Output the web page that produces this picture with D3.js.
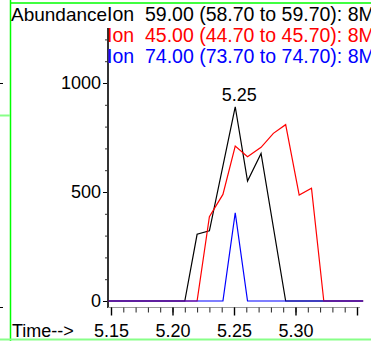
<!DOCTYPE html>
<html>
<head>
<meta charset="utf-8">
<script src="https://cdn.jsdelivr.net/npm/d3@7/dist/d3.min.js"></script>
<style>
  html, body { margin: 0; padding: 0; background: #fff; }
  svg { display: block; font-family: "Liberation Sans", Arial, sans-serif; }
</style>
</head>
<body>
<svg id="chart" width="371" height="341"></svg>
<script>
// Extracted ion chromatograms: retention time (min) vs abundance
const ion59Time  = [5.148, 5.210, 5.220, 5.230, 5.251, 5.261, 5.272, 5.292, 5.355];
const ion59Abund = [0,     0,     306,   322,   891,   550,   677,   0,     0];

const ion45Time  = [5.148, 5.220, 5.230, 5.241, 5.251, 5.261, 5.272, 5.282, 5.292, 5.303, 5.313, 5.323, 5.355];
const ion45Abund = [0,     0,     387,   489,   711,   662,   705,   769,   809,   486,   517,   0,     0];

const ion74Time  = [5.148, 5.241, 5.251, 5.261, 5.355];
const ion74Abund = [0,     0,     405,   0,     0];

const legendLines = [
  "Ion  59.00 (58.70 to 59.70): 8M",
  "Ion  45.00 (44.70 to 45.70): 8M",
  "Ion  74.00 (73.70 to 74.70): 8M"
];
const seriesColors = ["#000000", "#ff0000", "#0000ff"];

const yMajorTicks = [0, 500, 1000];
const yMinorTicks = d3.range(0, 1300, 100);
const xMajorTicks = [5.15, 5.20, 5.25, 5.30, 5.35];
const xLabelTicks = [5.15, 5.20, 5.25, 5.30];
const xMinorTicks = d3.range(5.15, 5.355, 0.01).map(v => +v.toFixed(2));

const peakLabelTime = 5.251, peakLabelAbund = 891, peakLabelText = "5.25";

const svg = d3.select("#chart");

const x = d3.scaleLinear().domain([5.15, 5.35]).range([111, 357]);
const y = d3.scaleLinear().domain([0, 1000]).range([301, 83]);

// panel frame lines
const frame = svg.append("g");
frame.append("line").attr("x1", 10.5).attr("x2", 10.5).attr("y1", 0).attr("y2", 341)
  .attr("stroke", "#00ff00").attr("stroke-width", 1.5);
frame.append("line").attr("x1", 10).attr("x2", 371).attr("y1", 3).attr("y2", 3)
  .attr("stroke", "#00ff00").attr("stroke-width", 1.5);
frame.append("line").attr("x1", 0).attr("x2", 10).attr("y1", 115.5).attr("y2", 115.5)
  .attr("stroke", "#88ff88").attr("stroke-width", 2);
frame.append("line").attr("x1", 0).attr("x2", 371).attr("y1", 339.5).attr("y2", 339.5)
  .attr("stroke", "#88ff88").attr("stroke-width", 2);
frame.selectAll(".stub").data([83, 307]).join("line")
  .attr("x1", 0).attr("x2", 3).attr("y1", d => d + 0.5).attr("y2", d => d + 0.5)
  .attr("stroke", "#000").attr("stroke-width", 1);

// y axis
const yMinor = svg.append("g").attr("transform", "translate(108,0)")
  .call(d3.axisLeft(y).tickValues(yMinorTicks).tickSize(3).tickFormat(""));
yMinor.select(".domain").remove();
yMinor.selectAll(".tick line").attr("stroke", "#333");

const yAxis = svg.append("g").attr("transform", "translate(108,0)")
  .call(d3.axisLeft(y).tickValues(yMajorTicks).tickSize(5).tickPadding(2).tickFormat(d3.format("d")));
yAxis.select(".domain").remove();
yAxis.selectAll(".tick line").attr("stroke", "#000");
yAxis.selectAll("text").attr("font-size", 18).attr("fill", "#000")
  .attr("font-family", "Liberation Sans, Arial, sans-serif");

svg.append("line").attr("x1", 108).attr("x2", 108).attr("y1", 28).attr("y2", 308)
  .attr("stroke", "#333").attr("stroke-width", 2);

// x axis
const xAxisY = 307.5;
const xMinor = svg.append("g").attr("transform", `translate(0,${xAxisY})`)
  .call(d3.axisBottom(x).tickValues(xMinorTicks).tickSize(5).tickSizeOuter(0).tickFormat(""));
xMinor.select(".domain").attr("stroke", "#999").attr("d", `M108,0H360`);
xMinor.selectAll(".tick line").attr("stroke", "#222");

const xAxis = svg.append("g").attr("transform", `translate(0,${xAxisY})`)
  .call(d3.axisBottom(x).tickValues(xMajorTicks).tickSize(8).tickSizeOuter(0)
    .tickFormat(d => xLabelTicks.includes(d) ? d3.format(".2f")(d) : ""));
xAxis.select(".domain").remove();
xAxis.selectAll(".tick line").attr("stroke", "#000").attr("stroke-width", 1.4);
xAxis.selectAll("text").attr("font-size", 18).attr("fill", "#000").attr("dy", 0)
  .attr("y", 29.5).attr("font-family", "Liberation Sans, Arial, sans-serif");

svg.append("text").attr("x", 12).attr("y", 337).attr("font-size", 18)
  .attr("fill", "#000").text("Time-->");

// ion traces
const line = d3.line().x(d => x(d[0])).y(d => y(d[1]));
const traces = [
  d3.zip(ion59Time, ion59Abund),
  d3.zip(ion45Time, ion45Abund),
  d3.zip(ion74Time, ion74Abund)
];
svg.append("g").selectAll("path").data(traces).join("path")
  .attr("d", line)
  .attr("fill", "none")
  .attr("stroke", (d, i) => seriesColors[i])
  .attr("stroke-width", 1.2)
  .attr("stroke-linejoin", "miter");

// apex retention time
svg.append("text")
  .attr("x", x(peakLabelTime) + 4).attr("y", y(peakLabelAbund) - 6)
  .attr("text-anchor", "middle").attr("font-size", 18).attr("fill", "#000")
  .text(peakLabelText);

// header and legend
svg.append("text").attr("x", 11).attr("y", 21).attr("font-size", 19)
  .attr("fill", "#000").text("Abundance");
svg.append("g").selectAll("text").data(legendLines).join("text")
  .attr("x", 107).attr("y", (d, i) => 21 + i * 21)
  .attr("font-size", 19.5)
  .attr("xml:space", "preserve")
  .style("white-space", "pre")
  .attr("fill", (d, i) => seriesColors[i])
  .text(d => d);
</script>
</body>
</html>
